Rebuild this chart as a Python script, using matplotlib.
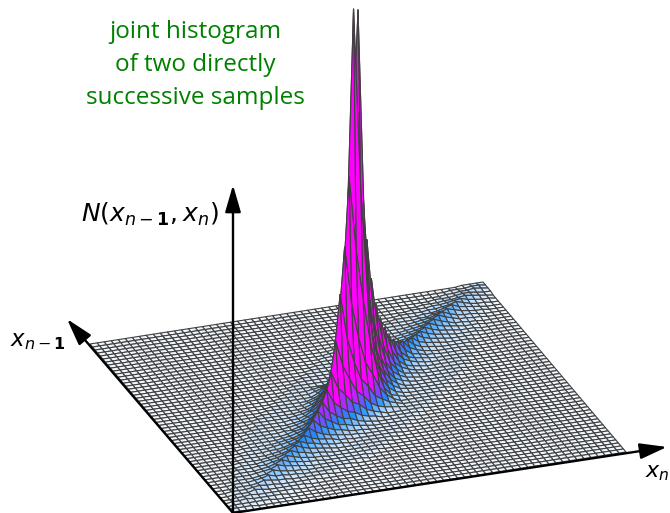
import numpy as np
import matplotlib
matplotlib.use("Agg")
import matplotlib.pyplot as plt
from matplotlib.collections import PolyCollection
from matplotlib.colors import LinearSegmentedColormap, Normalize

# heights (in pixels), one list per distance from the diagonal
band_0 = [1,1,1,2,2,3,3,4,5,6,7,8,8,9,10,10,12,15,19,24,29,37,50,77,120,163,229,393,388,209,150,107,78,60,46,34,26,20,16,13,11,10,9,9,9,9,9,8,7,7,6,5,4,3,3,2,1]
band_1 = [1,1,1,1,1,2,2,3,3,4,5,5,6,6,7,7,8,10,12,15,18,23,33,52,75,105,155,215,150,95,68,50,37,28,22,16,12,10,8,7,6,6,6,6,6,6,6,5,5,4,4,3,3,2,2,1]
band_2 = [0,1,1,1,1,1,2,2,3,3,4,4,4,5,5,6,6,7,9,11,13,17,26,37,50,70,105,105,62,42,30,22,17,13,10,8,6,5,5,4,4,4,4,4,4,4,4,3,3,3,2,2,2,1,1]
band_3 = [0,0,1,1,1,1,1,2,2,2,3,3,3,3,4,4,5,5,6,7,9,12,17,24,32,44,62,44,30,21,15,11,9,7,5,5,4,4,3,3,3,3,3,3,3,2,2,2,2,2,1,1,1,1]
band_4 = [0,0,1,1,1,1,1,1,2,2,2,2,2,3,3,3,4,4,5,6,8,10,14,18,24,32,32,20,14,10,7,6,4,4,3,3,3,2,2,2,2,2,2,2,2,2,2,2,1,1,1,1,0]
band_5 = [0,0,0,1,1,1,1,1,1,1,1,2,2,2,2,2,2,3,3,4,5,6,8,10,13,17,13,9,7,5,4,3,3,2,2,2,2,2,1,1,1,1,1,1,1,1,1,1,1,0,0,0]
band_6 = [0,0,0,0,1,1,1,1,1,1,1,1,1,1,1,2,2,2,2,3,3,4,5,6,9,9,5,4,3,2,2,2,2,1,1,1,1,1,1,1,1,1,1,1,1,1,1,0,0,0,0]
band_7 = [0,0,0,0,0,1,1,1,1,1,1,1,1,1,1,1,1,2,2,2,2,3,3,4,5,4,3,2,2,1,1,1,1,1,1,1,1,1,1,1,1,1,1,1,1,0,0,0,0,0]
band_8 = [0]*6 + [1]*17 + [3,3] + [1]*18 + [0]*6
band_9 = [0]*7 + [1]*16 + [2] + [1]*16 + [0]*8
band_10 = [0]*8 + [1]*30 + [0]*9
band_11 = [0]*9 + [1]*27 + [0]*10
band_12 = [0]*10 + [1]*24 + [0]*11
band_13 = [0]*12 + [1]*20 + [0]*12
bands = [band_0, band_1, band_2, band_3, band_4, band_5, band_6, band_7,
         band_8, band_9, band_10, band_11, band_12, band_13]

title_lines = ["joint histogram", "of two directly", "successive samples"]

n = len(band_0)
heights = np.zeros((n, n))
for d, band in enumerate(bands):
    for m, v in enumerate(band):
        heights[m + d, m] = v
        heights[m, m + d] = v

# ground plane is a parallelogram on screen, height goes straight up
origin = np.array([233.0, 513.0])
step_i = np.array([393.0, -61.0]) / (n - 1)
step_j = np.array([-143.0, -169.0]) / (n - 1)

def project(i, j):
    p = origin + i * step_i + j * step_j
    return p[0], p[1] - heights[i, j]

cmap = LinearSegmentedColormap.from_list("ridge", [
    (0.0, "#f0f6fc"), (3 / 40, "#a8d4ff"), (9 / 40, "#1e90ff"),
    (18 / 40, "#8a3cff"), (30 / 40, "#ff00ff"), (1.0, "#ff00ff")])
norm = Normalize(0, 40)

polys = []
values = []
# back corner first so the front cells paint over it
for s in range(2 * (n - 2), -1, -1):
    for i in range(max(0, s - (n - 2)), min(n - 2, s) + 1):
        j = s - i
        polys.append([project(i, j), project(i + 1, j), project(i + 1, j + 1), project(i, j + 1)])
        values.append(heights[i:i + 2, j:j + 2].mean())

fig = plt.figure(figsize=(6.7, 5.13), dpi=100)
ax = fig.add_axes([0, 0, 1, 1])
ax.set_xlim(0, 670)
ax.set_ylim(513, 0)
ax.axis("off")

mesh = PolyCollection(polys, facecolors=cmap(norm(values)), edgecolors="#404040", linewidths=0.8, zorder=2)
ax.add_collection(mesh)

plt.rcParams["mathtext.fontset"] = "dejavusans"

arrow = dict(arrowstyle="-|>,head_length=1.1,head_width=0.32", color="black", lw=1.7, shrinkA=0, shrinkB=0, mutation_scale=15)
ax.annotate("", xy=(233, 185), xytext=(233, 513), arrowprops=arrow, zorder=5)
ax.annotate("", xy=(667, 447), xytext=(233, 513), arrowprops=arrow, zorder=5)
ax.annotate("", xy=(67, 319), xytext=(233, 513), arrowprops=arrow, zorder=5)

for y, line in zip([32, 65, 98], title_lines):
    ax.text(195, y, line, color="#008000", fontsize=17.5, family="Open Sans", ha="center", va="center")

ax.text(219, 222, r"$N(x_{n-\mathbf{1}},x_n)$", fontsize=18, ha="right", va="baseline", color="black")
ax.text(66, 346, r"$x_{n-\mathbf{1}}$", fontsize=16.5, ha="right", va="baseline", color="black")
ax.text(645, 477, r"$x_n$", fontsize=16, ha="left", va="baseline", color="black")

fig.savefig("out.png", dpi=100)
